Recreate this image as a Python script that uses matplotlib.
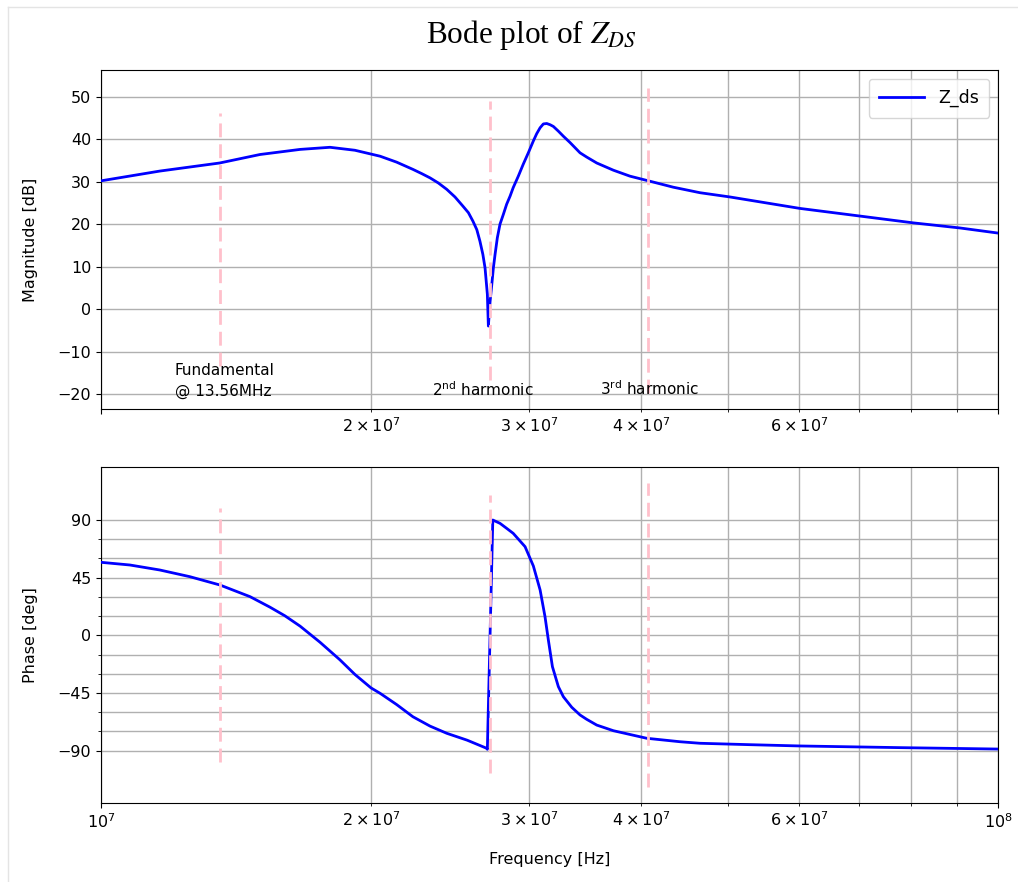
import matplotlib
matplotlib.use("Agg")
import matplotlib.pyplot as plt
from matplotlib.ticker import NullFormatter, FixedLocator
from matplotlib.lines import Line2D

# ---------------- data ----------------
freq_mag = [1.000e7, 1.163e7, 1.356e7, 1.504e7, 1.667e7, 1.800e7, 1.919e7, 2.047e7,
            2.136e7, 2.227e7, 2.278e7, 2.327e7, 2.377e7, 2.429e7, 2.481e7, 2.533e7,
            2.568e7, 2.598e7, 2.624e7, 2.645e7, 2.665e7, 2.680e7, 2.696e7, 2.703e7,
            2.715e7, 2.727e7, 2.738e7, 2.750e7, 2.766e7, 2.785e7, 2.809e7, 2.833e7,
            2.858e7, 2.881e7, 2.919e7, 2.956e7, 2.995e7, 3.034e7, 3.060e7, 3.087e7,
            3.113e7, 3.140e7, 3.168e7, 3.194e7, 3.235e7, 3.277e7, 3.334e7, 3.420e7,
            3.479e7, 3.570e7, 3.726e7, 3.888e7, 4.059e7, 4.345e7, 4.654e7, 5.026e7,
            6.016e7, 7.019e7, 8.047e7, 9.071e7, 1.000e8]
mag_db = [30.2, 32.5, 34.4, 36.4, 37.6, 38.1, 37.4, 36.0,
          34.6, 32.9, 31.9, 30.9, 29.7, 28.2, 26.4, 24.2,
          22.7, 20.7, 18.7, 16.0, 12.9, 9.7, 3.5, -4.0,
          1.8, 5.8, 9.7, 12.9, 16.8, 20.0, 22.3, 24.7,
          26.6, 28.6, 31.3, 34.1, 36.8, 39.6, 41.3, 42.7,
          43.6, 43.7, 43.4, 43.0, 41.9, 40.7, 39.2, 36.8,
          35.8, 34.4, 32.7, 31.3, 30.3, 28.7, 27.4, 26.4,
          23.7, 21.9, 20.3, 19.1, 17.9]

freq_phase = [1.000e7, 1.077e7, 1.163e7, 1.256e7, 1.357e7, 1.466e7, 1.543e7, 1.603e7,
              1.667e7, 1.754e7, 1.846e7, 1.919e7, 2.000e7, 2.047e7, 2.136e7, 2.227e7,
              2.327e7, 2.429e7, 2.560e7, 2.691e7, 2.696e7, 2.734e7, 2.785e7, 2.833e7,
              2.881e7, 2.970e7, 3.034e7, 3.087e7, 3.126e7, 3.153e7, 3.186e7, 3.235e7,
              3.277e7, 3.348e7, 3.420e7, 3.479e7, 3.570e7, 3.726e7, 4.059e7, 4.421e7,
              4.654e7, 5.292e7, 6.016e7, 7.775e7, 1.000e8]
phase_deg = [57.0, 54.9, 51.0, 45.8, 39.3, 30.2, 22.0, 15.3,
             7.2, -5.3, -19.0, -30.5, -41.0, -45.2, -54.0, -63.5,
             -70.8, -76.4, -81.8, -88.1, -88.9, 90.0, 87.4, 83.5,
             79.6, 69.2, 54.1, 35.4, 14.6, -3.6, -24.4, -40.0,
             -47.9, -56.1, -62.1, -65.5, -70.0, -74.4, -80.3, -83.0,
             -84.2, -85.3, -86.3, -87.6, -88.7]

harmonic_freqs = [13.56e6, 27.12e6, 40.68e6]
mag_vline_low = [-13.5, -16.6, -19.8]
mag_vline_high = [46.2, 49.0, 52.1]
phase_vline_low = [-98.6, -107.6, -118.0]
phase_vline_high = [99.1, 109.5, 118.6]

annot_texts = ["Fundamental\n@ 13.56MHz", "2$^{\\mathrm{nd}}$ harmonic", "3$^{\\mathrm{rd}}$ harmonic"]
annot_x = [1.209e7, 2.338e7, 3.600e7]
annot_y = [-16.9, -18.9, -18.7]

mag_ticks = [-20, -10, 0, 10, 20, 30, 40, 50]
phase_ticks = [-90, -45, 0, 45, 90]
phase_minor_ticks = [-75, -60, -30, -15, 15, 30, 60, 75]

# ---------------- figure ----------------
plt.rcParams['font.family'] = ['DejaVu Sans']
FS = 11.5
W, H = 1018, 882
fig = plt.figure(figsize=(W / 100, H / 100), dpi=100)

# light screenshot frame
fig.add_artist(Line2D([8 / W, 1.0], [1 - 7 / H, 1 - 7 / H], color='#e4e4e4', lw=1))
fig.add_artist(Line2D([8 / W, 8 / W], [0, 1 - 7 / H], color='#e4e4e4', lw=1))

ax1 = fig.add_axes([101 / W, 1 - 409.3 / H, 897 / W, (409.3 - 70) / H])
ax2 = fig.add_axes([101 / W, 1 - 803 / H, 897 / W, (803 - 466.7) / H])

blue = '#0000ff'
pink = '#ffc0cb'
dash = (0, (5, 2.5))

ax1.semilogx(freq_mag, mag_db, color=blue, lw=2, label='Z_ds', zorder=3)
ax2.semilogx(freq_phase, phase_deg, color=blue, lw=2, zorder=3)

for f, lo, hi in zip(harmonic_freqs, mag_vline_low, mag_vline_high):
    ax1.plot([f, f], [lo, hi], color=pink, ls=dash, lw=2, zorder=4)
for f, lo, hi in zip(harmonic_freqs, phase_vline_low, phase_vline_high):
    ax2.plot([f, f], [lo, hi], color=pink, ls=dash, lw=2, zorder=4)

for t, x, y in zip(annot_texts, annot_x, annot_y):
    ax1.text(x, y, t, fontsize=FS - 0.5, ha='left', va='center', linespacing=1.45, zorder=5)

for ax in (ax1, ax2):
    ax.set_xlim(1e7, 1e8)
    ax.grid(True, which='both', axis='x', color='#b0b0b0', lw=1)
    ax.tick_params(labelsize=FS, which='both')

ax1.set_ylim(-23.6, 56.3)
ax1.yaxis.set_major_locator(FixedLocator(mag_ticks))
ax1.grid(True, which='major', axis='y', color='#b0b0b0', lw=1)
ax1.xaxis.set_major_formatter(NullFormatter())
ax1.set_ylabel('Magnitude [dB]', fontsize=FS, labelpad=14)
ax1.legend(loc='upper right', fontsize=12.5, handlelength=2.6, borderpad=0.6)

ax2.set_ylim(-130.8, 131.6)
ax2.yaxis.set_major_locator(FixedLocator(phase_ticks))
ax2.yaxis.set_minor_locator(FixedLocator(phase_minor_ticks))
ax2.grid(True, which='both', axis='y', color='#b0b0b0', lw=1)
ax2.set_ylabel('Phase [deg]', fontsize=FS, labelpad=14)
ax2.set_xlabel('Frequency [Hz]', fontsize=FS, labelpad=15)

fig.text(531 / W, 1 - 35 / H, 'Bode plot of $Z_{DS}$', fontsize=22.5,
         family='Liberation Serif', math_fontfamily='stix', ha='center', va='center')

fig.savefig('out.png', dpi=100)
